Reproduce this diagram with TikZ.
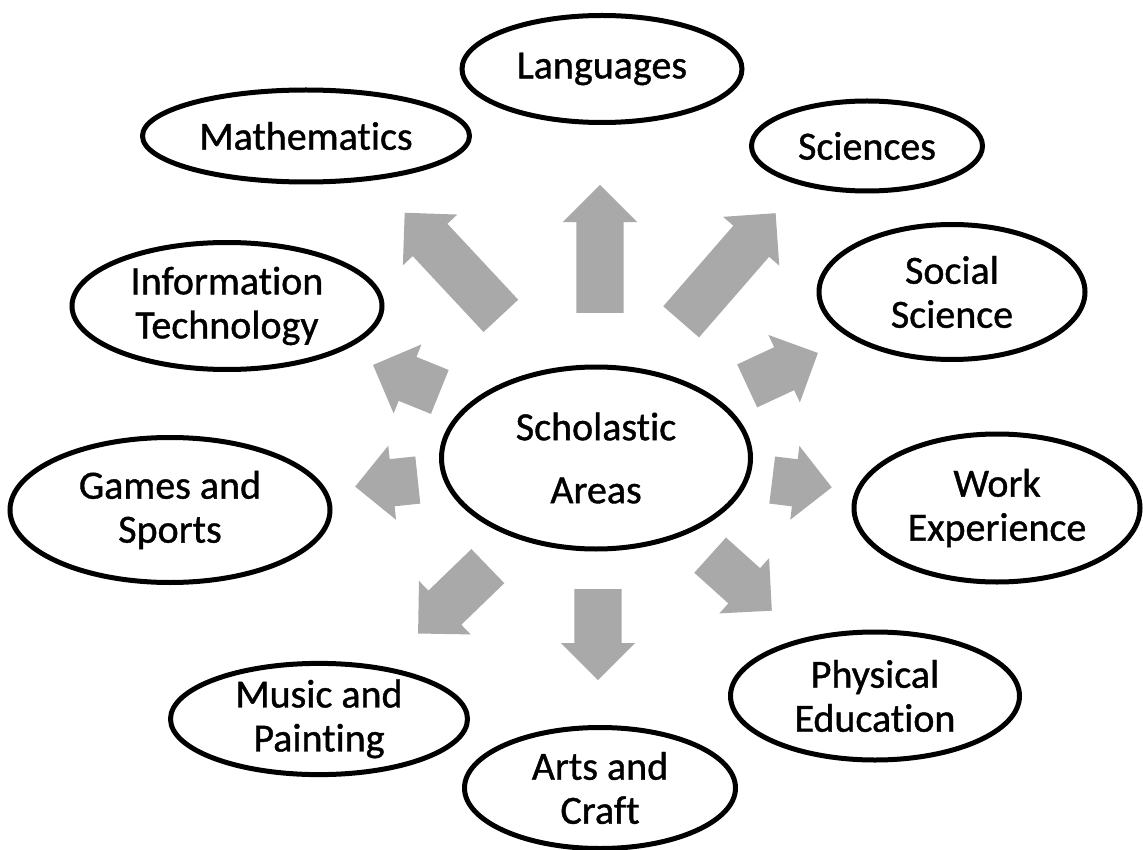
\documentclass[tikz,border=0pt]{standalone}
\usepackage{fontspec}
\setmainfont{Carlito}[Ligatures={NoCommon}, FakeBold=1]
\usetikzlibrary{shapes.geometric,shapes.arrows}
\definecolor{arrowgray}{RGB}{169,169,169}
\begin{document}
\begin{tikzpicture}[x=1pt,y=-1pt,
  area/.style={draw=black, line width=5pt, fill=white, ellipse, inner sep=0pt,
    align=center, font=\fontsize{40}{44}\selectfont},
  fatarrow/.style={single arrow, fill=arrowgray, draw=none, inner sep=0pt,
    inner ysep=23.5pt, single arrow head extend=13.5pt, minimum width=74pt,
    single arrow tip angle=90, anchor=tail}]
\useasboundingbox (0,0) rectangle (1143,850);
\fill[white] (0,0) rectangle (1143,850);

% arrows
\node[fatarrow, minimum height=141pt, rotate=133] (a1) at (501,316) {};
\node[fatarrow, minimum height=128pt, rotate=90] (a2) at (600,313) {};
\node[fatarrow, minimum height=144pt, rotate=49] (a3) at (681,322) {};
\node[fatarrow, minimum height=78pt, rotate=25] (a4) at (747,386) {};
\node[fatarrow, minimum height=60pt, rotate=-7] (a5) at (772,480) {};
\node[fatarrow, minimum height=83pt, rotate=-42] (a6) at (710,555) {};
\node[fatarrow, minimum height=91pt, rotate=-90] (a7) at (598,589) {};
\node[fatarrow, minimum height=97pt, rotate=224] (a8) at (488,566) {};
\node[fatarrow, minimum height=63pt, rotate=186] (a9) at (418,480) {};
\node[fatarrow, minimum height=72pt, rotate=158] (a10) at (440,392) {};

% ellipses
\node[area, minimum width=280pt, minimum height=107pt] (lang) at (602,69) {Languages};
\node[area, minimum width=327pt, minimum height=92pt] (math) at (306,136) {Mathematics};
\node[area, minimum width=231pt, minimum height=90pt] (sci) at (867,146) {Sciences};
\node[area, minimum width=310pt, minimum height=127pt] (it) at (227,306) {Information\\Technology};
\node[area, minimum width=266pt, minimum height=135pt] (soc) at (952,292) {Social\\Science};
\node[area, minimum width=309pt, minimum height=182pt, font=\fontsize{40}{63}\selectfont] (center) at (596,458) {Scholastic\\Areas};
\node[area, minimum width=320pt, minimum height=145pt] (games) at (170,510) {Games and\\Sports};
\node[area, minimum width=286pt, minimum height=148pt] (work) at (997,508) {Work\\Experience};
\node[area, minimum width=289pt, minimum height=128pt] (pe) at (875,696) {Physical\\Education};
\node[area, minimum width=297pt, minimum height=110pt] (music) at (319,719) {Music and\\Painting};
\node[area, minimum width=271pt, minimum height=121pt] (arts) at (600,788) {Arts and\\Craft};
\end{tikzpicture}
\end{document}
